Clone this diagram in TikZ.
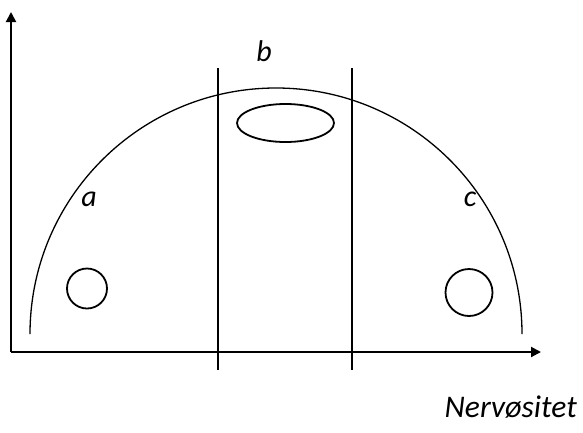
\documentclass[tikz,border=0pt]{standalone}
\usepackage{fontspec}
\setmainfont{Carlito}
\usetikzlibrary{arrows.meta}
\tikzset{
  axis/.style={line width=2pt,-{Triangle[length=10pt,width=10pt]}},
  divider/.style={line width=1.8pt},
  curve/.style={line width=1.3pt},
  blob/.style={line width=1.8pt},
  lbl/.style={font=\fontsize{30}{34}\selectfont\itshape,inner sep=0pt}
}
\begin{document}
\begin{tikzpicture}[x=1pt,y=-1pt]
\useasboundingbox (0,0) rectangle (583,432);
\coordinate (O) at (11,352);
\coordinate (Ytip) at (11,12);
\coordinate (Xtip) at (541,352);
\draw[axis] (O) -- (Ytip);
\draw[axis] (O) -- (Xtip);
% semicircle
\draw[curve] (30,334) arc[start angle=180,end angle=360,radius=246];
% vertical dividers
\draw[divider] (218,68) -- (218,370);
\draw[divider] (352,68) -- (352,370);
% ellipse
\draw[blob] (285.5,123) ellipse[x radius=48.5,y radius=19];
% circles
\draw[blob] (87,288.5) circle[radius=20];
\draw[blob] (469,292.5) circle[radius=23.5];
% labels
\node[lbl] (b) at (264,51) {b};
\node[lbl] (a) at (89,199) {a};
\node[lbl] (c) at (470,199) {c};
\node[lbl,font=\fontsize{31.5}{36}\selectfont\itshape,anchor=base east] (nerv) at (577,417) {Nervøsitet};
\end{tikzpicture}
\end{document}
